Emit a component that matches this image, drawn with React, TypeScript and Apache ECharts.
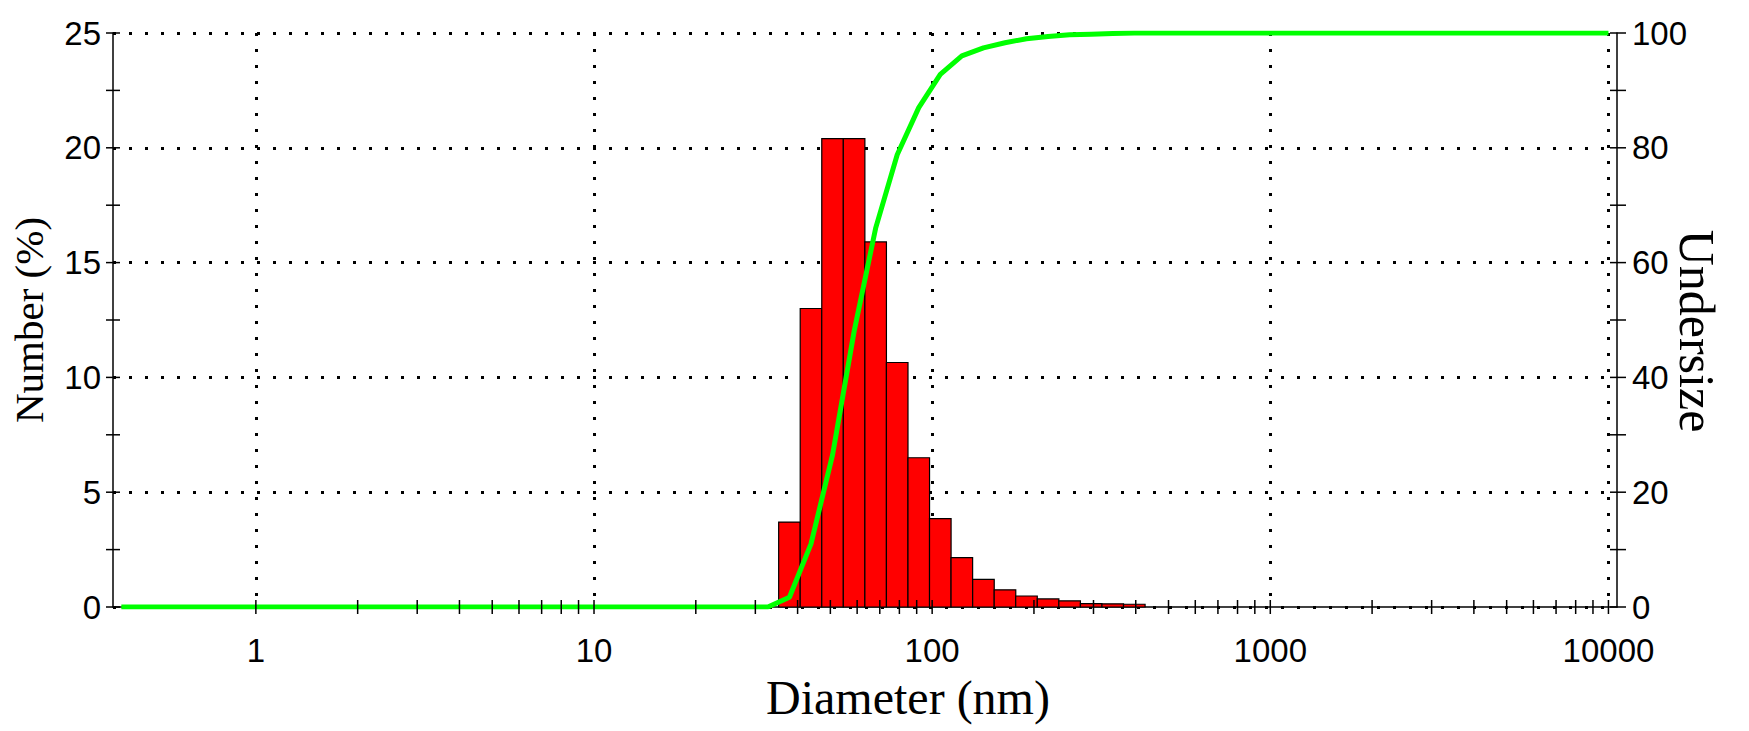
import { useEffect, useRef } from 'react';
import * as echarts from 'echarts';

// Diameter bins (nm) that carry bars, number distribution (%) per bin
const binSizes = [37.84, 43.82, 50.75, 58.77, 68.06, 78.82, 91.28, 105.7, 122.4, 141.8, 164.2, 190.1, 220.2, 255.0, 295.3, 342.0, 396.1];
const numberPct = [3.7, 13.0, 20.4, 20.4, 15.9, 10.65, 6.5, 3.85, 2.15, 1.2, 0.75, 0.48, 0.35, 0.27, 0.15, 0.14, 0.12];
const binRatio = 1.1582; // spacing between neighbouring bins

// Cumulative undersize curve
const curveSizes = [0.4, 32.67, 37.84, 43.82, 50.75, 58.77, 68.06, 78.82, 91.28, 105.7, 122.4, 141.8, 164.2, 190.1, 220.2, 255.0, 295.3, 342.0, 396.1, 458.7, 10000];
const undersize = [0, 0, 1.7, 11.0, 26.5, 48.0, 66.0, 78.8, 87.0, 92.8, 96.0, 97.4, 98.3, 99.0, 99.4, 99.7, 99.8, 99.9, 100, 100, 100];

const xMin = 0.378;
const xMax = 10600;
const decades = [1, 10, 100, 1000];
const yTickVals = [0, 2.5, 5, 7.5, 10, 12.5, 15, 17.5, 20, 22.5, 25];

const xTickVals: number[] = [];
decades.forEach((d) => {
    for (let m = 1; m <= 9; m++) xTickVals.push(d * m);
});
xTickVals.push(10000);

const labelFont = 'Liberation Sans, Arial, sans-serif';
const titleFont = 'Liberation Serif, Times New Roman, serif';
const dotted = { color: '#000', width: 3, type: [3, 13] as number[] };

const App = () => {
    const chartRef = useRef<HTMLDivElement>(null);

    useEffect(() => {
        if (!chartRef.current) return;
        const chart = echarts.init(chartRef.current, null, { renderer: 'svg' });

        const sq = Math.sqrt(binRatio);
        const barData = binSizes.map((c, i) => [c, numberPct[i], c / sq, c * sq]);

        const option: any = {
            animation: false,
            backgroundColor: '#fff',
            grid: { left: 112, right: 132, top: 33, bottom: 124 },
            xAxis: {
                type: 'log',
                logBase: 10,
                min: xMin,
                max: xMax,
                name: 'Diameter (nm)',
                nameLocation: 'middle',
                nameGap: 66,
                nameTextStyle: { fontFamily: titleFont, fontSize: 48, color: '#000', padding: [0, 0, 0, 86] },
                axisLine: { lineStyle: { color: '#000', width: 1.5 } },
                axisTick: { show: false },
                axisLabel: {
                    margin: 27,
                    fontFamily: labelFont,
                    fontSize: 33,
                    color: '#000',
                    formatter: (v: number) => {
                        const l = Math.log10(v);
                        return Math.abs(l - Math.round(l)) < 1e-6 && v >= 1 ? String(Math.round(v)) : '';
                    },
                },
                splitLine: { show: true, showMinLine: false, showMaxLine: false, lineStyle: dotted },
            },
            yAxis: [
                {
                    type: 'value',
                    min: 0,
                    max: 25,
                    interval: 5,
                    name: 'Number (%)',
                    nameLocation: 'middle',
                    nameGap: 64,
                    nameRotate: 90,
                    nameTextStyle: { fontFamily: titleFont, fontSize: 41, color: '#000' },
                    axisLine: { show: true, lineStyle: { color: '#000', width: 1.5 } },
                    axisTick: { show: false },
                    axisLabel: { margin: 12, fontFamily: labelFont, fontSize: 33, color: '#000' },
                    splitLine: { show: true, lineStyle: dotted },
                },
                {
                    type: 'value',
                    position: 'right',
                    min: 0,
                    max: 100,
                    interval: 20,
                    name: 'Undersize',
                    nameLocation: 'middle',
                    nameGap: 55,
                    nameMoveOverlap: false,
                    nameRotate: -90,
                    nameTextStyle: { fontFamily: titleFont, fontSize: 50, color: '#000', padding: [0, 0, 0, 22] },
                    axisLine: { show: true, lineStyle: { color: '#000', width: 1.5 } },
                    axisTick: { show: false },
                    axisLabel: { margin: 15, fontFamily: labelFont, fontSize: 33, color: '#000' },
                    splitLine: { show: false },
                },
            ],
            series: [
                {
                    type: 'custom',
                    name: 'Number',
                    z: 2,
                    encode: { x: 0, y: 1 },
                    data: barData,
                    renderItem: (_p: any, api: any) => {
                        const base = api.coord([api.value(2), 0]);
                        const top = api.coord([api.value(3), api.value(1)]);
                        return {
                            type: 'rect',
                            shape: { x: base[0], y: top[1], width: top[0] - base[0], height: base[1] - top[1] },
                            style: { fill: '#ff0000', stroke: '#000', lineWidth: 1.2 },
                        };
                    },
                },
                {
                    type: 'line',
                    name: 'Undersize',
                    yAxisIndex: 1,
                    z: 3,
                    symbol: 'none',
                    data: curveSizes.map((s, i) => [s, undersize[i]]),
                    lineStyle: { color: '#00ff00', width: 5 },
                },
                {
                    type: 'custom',
                    name: 'xTicks',
                    z: 4,
                    silent: true,
                    data: xTickVals.map((v) => [v, 0]),
                    renderItem: (_p: any, api: any) => {
                        const p = api.coord([api.value(0), 0]);
                        return {
                            type: 'line',
                            shape: { x1: p[0], y1: p[1] - 7, x2: p[0], y2: p[1] + 7 },
                            style: { stroke: '#000', lineWidth: 1.5 },
                        };
                    },
                },
                {
                    type: 'custom',
                    name: 'yTicks',
                    z: 4,
                    silent: true,
                    data: yTickVals.map((v) => [xMin, v]).concat(yTickVals.map((v) => [xMax, v])),
                    renderItem: (_p: any, api: any) => {
                        const p = api.coord([api.value(0), api.value(1)]);
                        const right = api.value(0) > 1;
                        return {
                            type: 'line',
                            shape: { x1: p[0] - 7, y1: p[1], x2: p[0] + (right ? 9 : 7), y2: p[1] },
                            style: { stroke: '#000', lineWidth: 1.5 },
                        };
                    },
                },
            ],
        };

        chart.setOption(option);
        return () => chart.dispose();
    }, []);

    return <div ref={chartRef} style={{ position: 'fixed', left: 0, top: 0, width: '100vw', height: '100vh' }} />;
};

export default App;
